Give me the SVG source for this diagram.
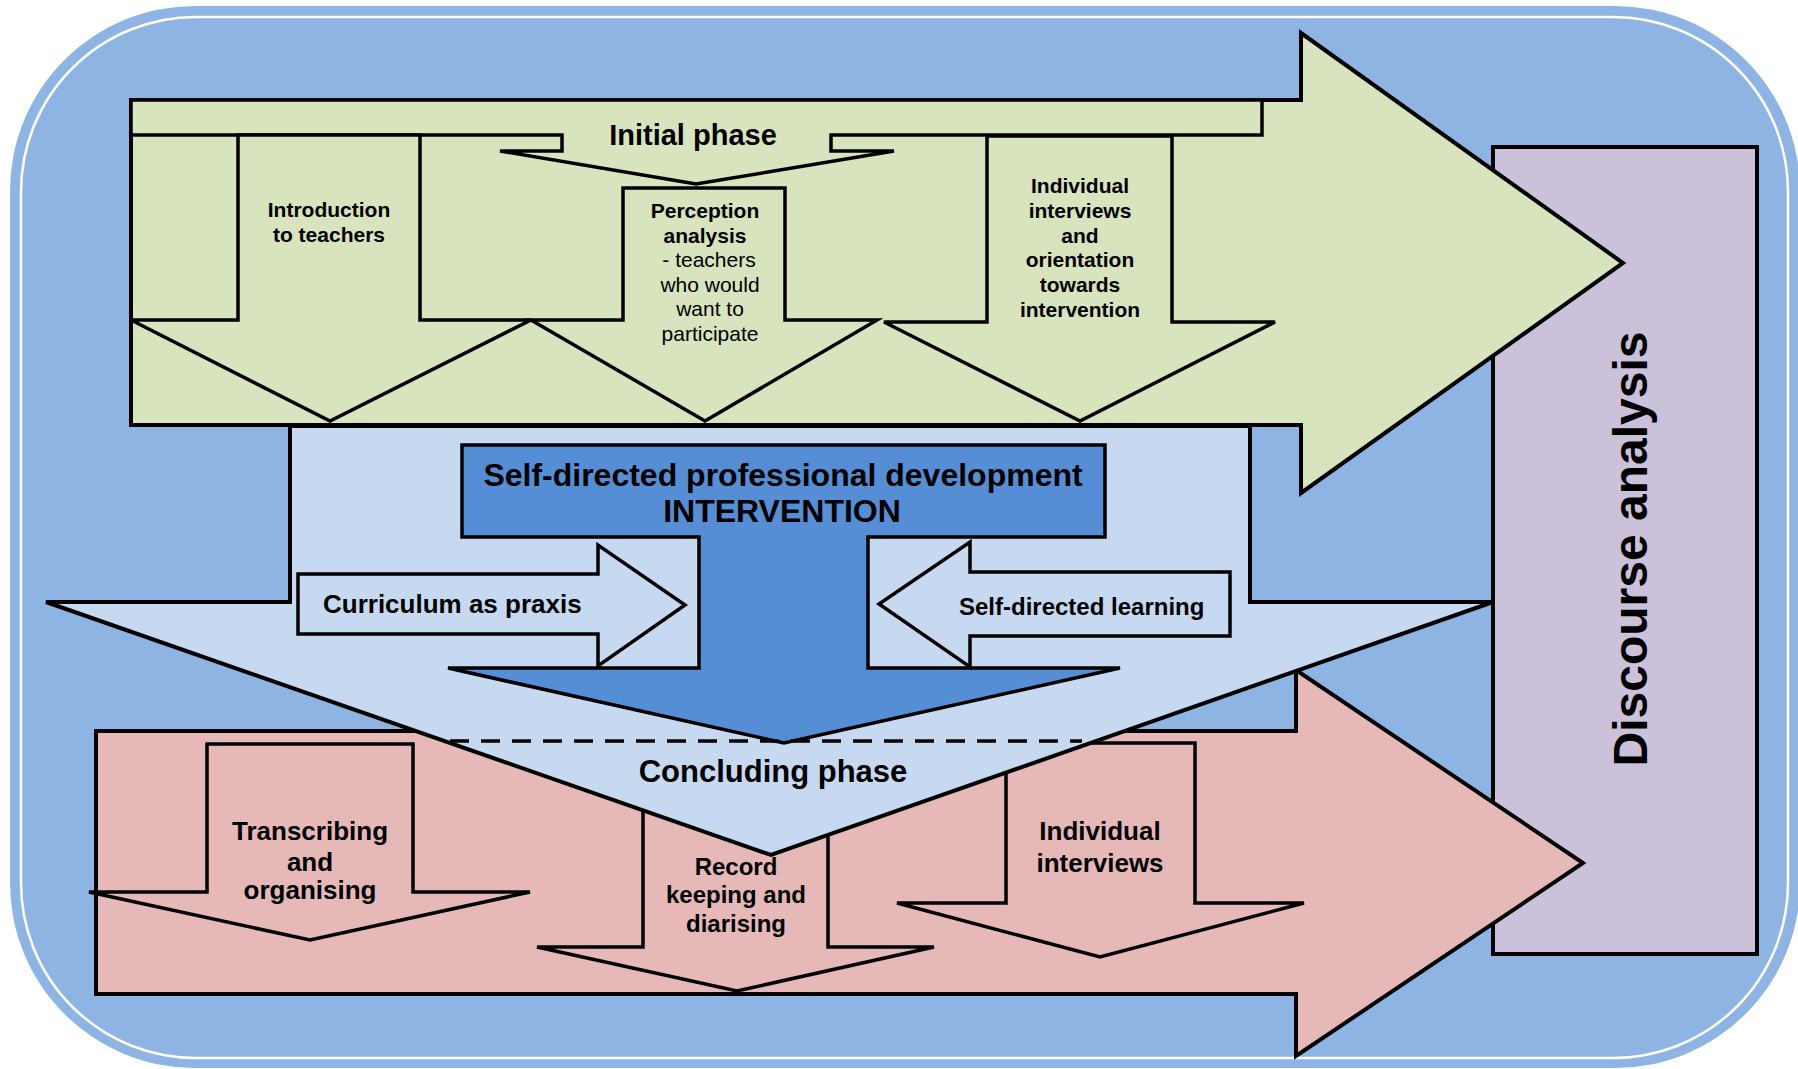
<svg xmlns="http://www.w3.org/2000/svg" width="1798" height="1069" viewBox="0 0 1798 1069">
  <style>
    .big { stroke: #000; stroke-width: 4; stroke-linejoin: miter; }
    .sub { stroke: #000; stroke-width: 3.5; stroke-linejoin: miter; }
    .green { fill: #D7E4BD; }
    .pink { fill: #E6B9B8; }
    .lblue { fill: #C6D9F1; }
    .dblue { fill: #558ED5; }
    .lav { fill: #CCC1DA; }
    text { font-family: "Liberation Sans", Arial, Helvetica, sans-serif; fill: #000; text-anchor: middle; }
    .b { font-weight: bold; }
    .t21 { font-size: 21px; }
    .t24 { font-size: 24px; }
    .t26 { font-size: 26px; }
    .t29 { font-size: 29px; }
    .t31 { font-size: 31px; }
    .t32 { font-size: 32px; }
    .t48 { font-size: 48px; }
    .start { text-anchor: start; }
  </style>

  <rect width="1798" height="1069" fill="#fff"/>

  <!-- rounded backdrop with a thin white inner rule -->
  <g id="frame">
    <rect x="10" y="6" width="1790" height="1062" rx="185" ry="185" fill="#8EB4E3"/>
    <rect x="21" y="17" width="1767" height="1041" rx="175" ry="175" fill="none" stroke="#fff" stroke-width="2.5"/>
  </g>

  <!-- analysis column on the right -->
  <g id="discourse-analysis">
    <rect x="1493" y="147" width="264" height="807" class="lav big"/>
    <text class="b t48" transform="translate(1647,549) rotate(-90)">Discourse analysis</text>
  </g>

  <!-- concluding phase: pink arrow and its steps -->
  <g id="concluding-band">
    <polygon class="pink big" points="96,731 1296,731 1296,670 1583,863 1296,1056 1296,994 96,994"/>
  </g>
  <g id="transcribing">
    <polygon class="pink sub" points="207,744 413,744 413,892 530,892 310,940 89,892 207,892"/>
    <text class="b t26" x="310" y="840">Transcribing</text>
    <text class="b t26" x="310" y="871">and</text>
    <text class="b t26" x="310" y="899">organising</text>
  </g>
  <g id="record-keeping">
    <polygon class="pink sub" points="643,780 828,780 828,947 934,947 737,991 537,947 643,947"/>
    <text class="b t24" x="736" y="875">Record</text>
    <text class="b t24" x="736" y="903">keeping and</text>
    <text class="b t24" x="736" y="932">diarising</text>
  </g>
  <g id="final-interviews">
    <polygon class="pink sub" points="1006,743 1195,743 1195,903 1304,903 1100,957 897,903 1006,903"/>
    <text class="b t26" x="1100" y="840">Individual</text>
    <text class="b t26" x="1100" y="872">interviews</text>
  </g>

  <!-- light blue funnel carrying the intervention into the concluding phase -->
  <g id="concluding-phase">
    <polygon class="lblue big" points="290,426 1250,426 1250,602 1493,602 771,855 46,602 290,602"/>
    <text class="b t31" x="773" y="782">Concluding phase</text>
  </g>

  <!-- initial phase: green arrow -->
  <g id="initial-band">
    <polygon class="green big" points="131,100 1301,100 1301,33 1623,263 1301,493 1301,425 131,425"/>
  </g>
  <g id="initial-phase">
    <polygon class="green sub" points="131,100 1262,100 1262,135 831,135 831,151 894,151 696,184 500,151 562,151 562,135 131,135"/>
    <text class="b t29" x="693" y="145">Initial phase</text>
  </g>
  <g id="introduction">
    <polygon class="green sub" points="238,135 420,135 420,320 531,320 330,421 131,320 238,320"/>
    <text class="b t21" x="329" y="217">Introduction</text>
    <text class="b t21" x="329" y="242">to teachers</text>
  </g>
  <g id="perception-analysis">
    <polygon class="green sub" points="623,188 785,188 785,320 877,320 705,421 531,320 623,320"/>
    <text class="b t21" x="705" y="218">Perception</text>
    <text class="b t21" x="705" y="243">analysis</text>
    <text class="t21" x="709" y="267">- teachers</text>
    <text class="t21" x="710" y="292">who would</text>
    <text class="t21" x="710" y="316">want to</text>
    <text class="t21" x="710" y="341">participate</text>
  </g>
  <g id="orientation-interviews">
    <polygon class="green sub" points="987,136 1172,136 1172,322 1275,322 1080,421 884,322 987,322"/>
    <text class="b t21" x="1080" y="193">Individual</text>
    <text class="b t21" x="1080" y="218">interviews</text>
    <text class="b t21" x="1080" y="243">and</text>
    <text class="b t21" x="1080" y="267">orientation</text>
    <text class="b t21" x="1080" y="292">towards</text>
    <text class="b t21" x="1080" y="317">intervention</text>
  </g>

  <!-- the intervention itself -->
  <g id="intervention">
    <polygon class="dblue sub" points="462,445 1105,445 1105,537 868,537 868,668 1120,668 784,743 448,668 699,668 699,537 462,537"/>
    <text class="b t32" x="783" y="486">Self-directed professional development</text>
    <text class="b t32" x="782" y="522">INTERVENTION</text>
  </g>
  <g id="curriculum-as-praxis">
    <polygon class="lblue sub" points="298,574 598,574 598,545 685,605 598,666 598,634 298,634"/>
    <text class="b t26 start" x="323" y="613">Curriculum as praxis</text>
  </g>
  <g id="self-directed-learning">
    <polygon class="lblue sub" points="1230,572 970,572 970,542 879,604 970,667 970,636 1230,636"/>
    <text class="b t24 start" x="959" y="615">Self-directed learning</text>
  </g>

  <!-- divider between intervention and concluding phase -->
  <g id="connectors">
    <line x1="450" y1="741" x2="1082" y2="741" stroke="#000" stroke-width="3.5" stroke-dasharray="19 12"/>
  </g>
</svg>
